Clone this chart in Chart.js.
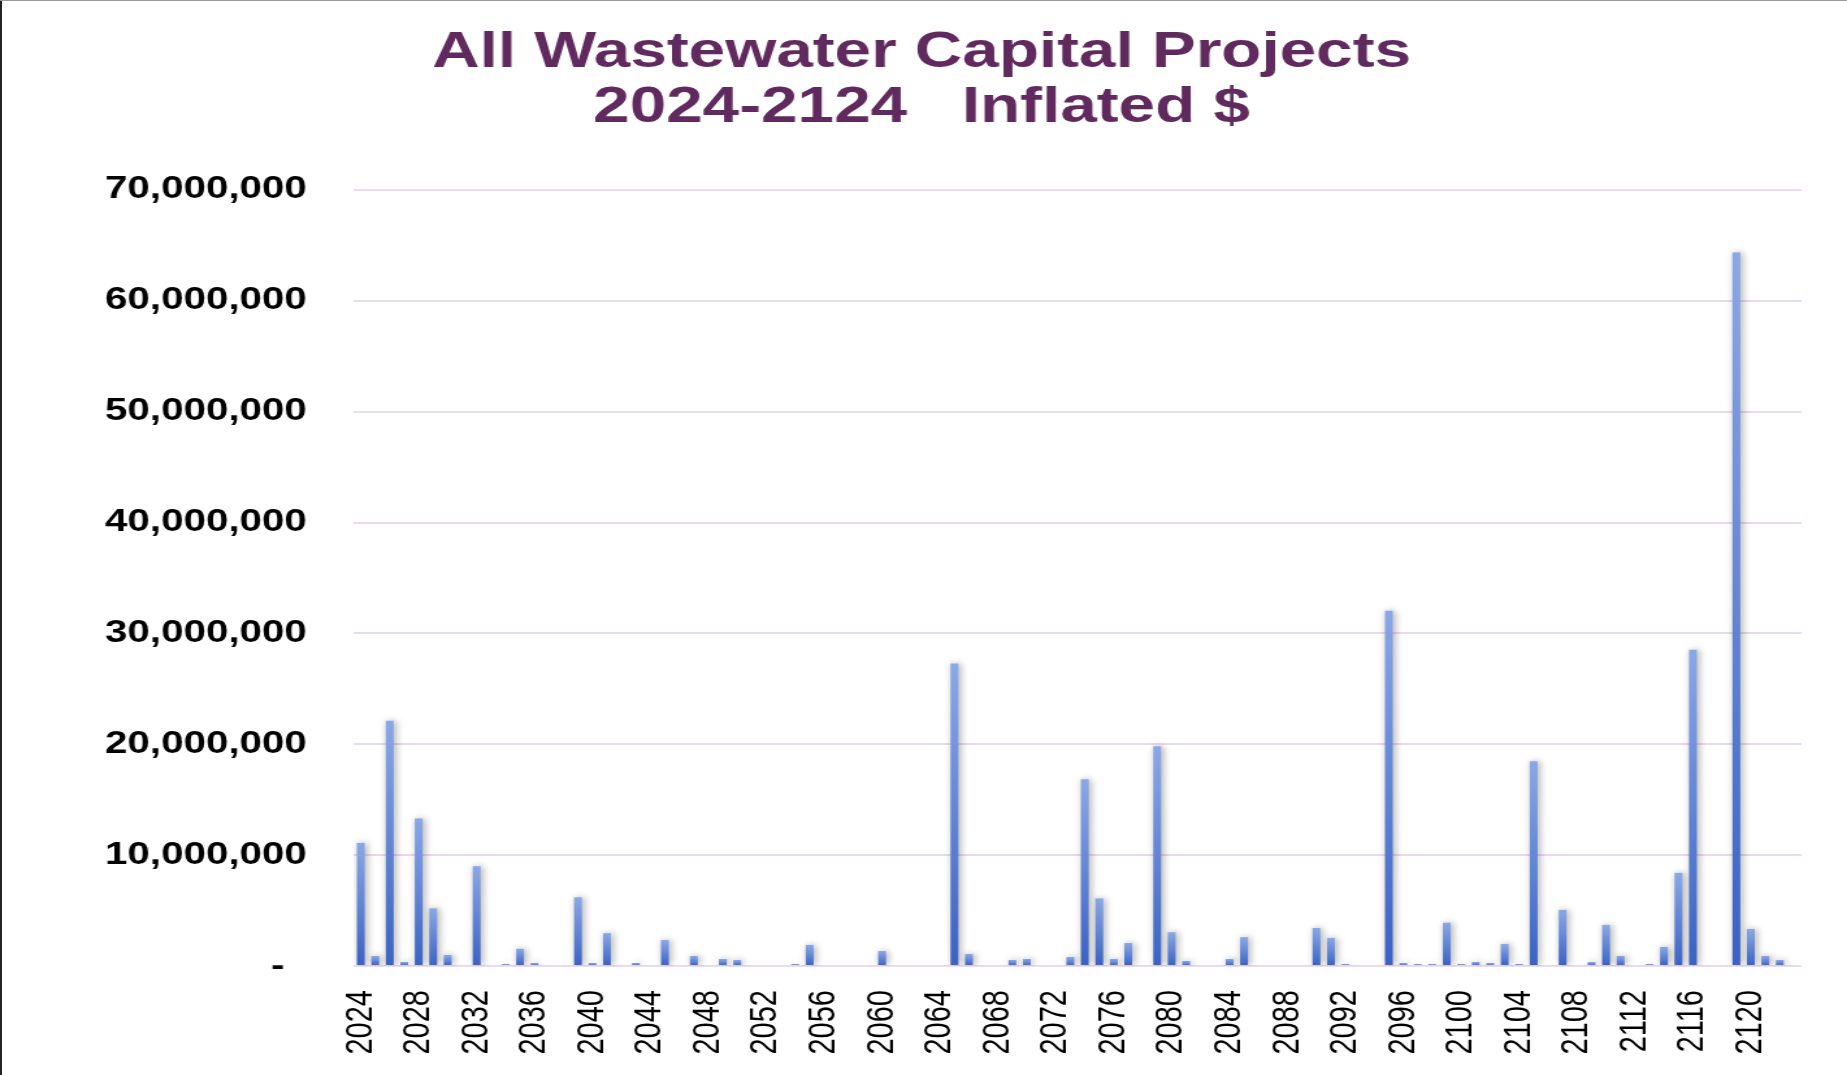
<!DOCTYPE html>
<html>
<head>
<meta charset="utf-8">
<title>All Wastewater Capital Projects</title>
<script src="https://cdn.jsdelivr.net/npm/chart.js@4/dist/chart.umd.min.js"></script>
<style>
  html, body { margin: 0; padding: 0; background: #fff; overflow: hidden; }
  #wrap { position: relative; width: 1847px; height: 1075px; overflow: hidden; }
  /* the original picture is stretched sideways, so the canvas is too */
  #wrap canvas { position: absolute; left: 0; top: 0; transform-origin: 0 0; transform: scaleX(1.2998); }
  #wrap::before { content: ""; position: absolute; z-index: 2; left: 0; top: 0; width: 2px; height: 100%; background: #222; }
  #wrap::after { content: ""; position: absolute; z-index: 2; left: 0; top: 0; width: 100%; height: 1px; background: #999; }
</style>
</head>
<body>
<div id="wrap"><canvas id="grafico" width="1421" height="1075"></canvas></div>
<script>
// anos 2024..2123
const years = [
  2024, 2025, 2026, 2027, 2028, 2029, 2030, 2031, 2032, 2033,
  2034, 2035, 2036, 2037, 2038, 2039, 2040, 2041, 2042, 2043,
  2044, 2045, 2046, 2047, 2048, 2049, 2050, 2051, 2052, 2053,
  2054, 2055, 2056, 2057, 2058, 2059, 2060, 2061, 2062, 2063,
  2064, 2065, 2066, 2067, 2068, 2069, 2070, 2071, 2072, 2073,
  2074, 2075, 2076, 2077, 2078, 2079, 2080, 2081, 2082, 2083,
  2084, 2085, 2086, 2087, 2088, 2089, 2090, 2091, 2092, 2093,
  2094, 2095, 2096, 2097, 2098, 2099, 2100, 2101, 2102, 2103,
  2104, 2105, 2106, 2107, 2108, 2109, 2110, 2111, 2112, 2113,
  2114, 2115, 2116, 2117, 2118, 2119, 2120, 2121, 2122, 2123
];

// inflated $ per year
const costs = [
  11.1e6, 0.9e6, 22.13e6, 0.36e6, 13.3e6, 5.2e6, 0.99e6, 0.09e6, 9.0e6, 0.09e6,
  0.18e6, 1.55e6, 0.27e6, 0, 0, 6.2e6, 0.27e6, 2.96e6, 0, 0.27e6,
  0, 2.34e6, 0, 0.9e6, 0, 0.63e6, 0.54e6, 0.09e6, 0, 0,
  0.18e6, 1.9e6, 0, 0, 0, 0.09e6, 1.35e6, 0.09e6, 0.09e6, 0,
  0, 27.28e6, 1.08e6, 0, 0, 0.54e6, 0.63e6, 0.09e6, 0, 0.81e6,
  16.84e6, 6.1e6, 0.63e6, 2.07e6, 0, 19.81e6, 3.05e6, 0.45e6, 0, 0,
  0.63e6, 2.6e6, 0.09e6, 0, 0, 0.09e6, 3.43e6, 2.53e6, 0.18e6, 0,
  0.09e6, 32.05e6, 0.27e6, 0.18e6, 0.18e6, 3.9e6, 0.18e6, 0.36e6, 0.27e6, 1.99e6,
  0.18e6, 18.46e6, 0, 5.06e6, 0.09e6, 0.36e6, 3.7e6, 0.9e6, 0.09e6, 0.18e6,
  1.72e6, 8.4e6, 28.53e6, 0, 0.09e6, 64.35e6, 3.34e6, 0.9e6, 0.54e6, 0.09e6
];

const yTicks = [0, 10e6, 20e6, 30e6, 40e6, 50e6, 60e6, 70e6];
const titleLines = ["All Wastewater Capital Projects", "2024-2124   Inflated $"];

const sombra = {
  id: "sombra",
  beforeDatasetsDraw(chart) {
    const ctx = chart.ctx;
    ctx.save();
    ctx.shadowColor = "rgba(0, 0, 0, 0.35)";
    ctx.shadowBlur = 6;
    ctx.shadowOffsetX = 1.5;
    ctx.shadowOffsetY = 0;
  },
  afterDatasetsDraw(chart) {
    chart.ctx.restore();
  }
};

function corBarra(c) {
  const chart = c.chart;
  const y = chart.scales.y;
  if (!chart.chartArea || !y) return "#6f8fdb";
  const topo = y.getPixelForValue(c.raw);
  const base = y.getPixelForValue(0);
  if (base - topo < 1) return "#86a3e3";
  const g = chart.ctx.createLinearGradient(0, topo, 0, base);
  g.addColorStop(0, "#8aa8e6");
  g.addColorStop(1, "#3a62c3");
  return g;
}

let grafico = new Chart("grafico", {
  type: "bar",
  data: {
    labels: years,
    datasets: [{
      data: costs,
      backgroundColor: corBarra,
      borderWidth: 0,
      categoryPercentage: 1,
      barPercentage: 0.54
    }]
  },
  options: {
    responsive: false,
    animation: false,
    layout: { padding: { left: 32, right: 35, top: 0, bottom: 0 } },
    plugins: {
      legend: { display: false },
      tooltip: { enabled: false },
      title: {
        display: true,
        text: titleLines,
        color: "#612a5e",
        font: { family: "'Liberation Sans', Arial, sans-serif", size: 50.5, weight: "bold", lineHeight: 1.078 },
        padding: { top: 26, bottom: 55 }
      }
    },
    scales: {
      x: {
        grid: { display: false },
        border: { display: false },
        ticks: {
          autoSkip: false,
          minRotation: 90,
          maxRotation: 90,
          padding: 16,
          color: "#000",
          font: { family: "'Liberation Sans', Arial, sans-serif", size: 29 },
          callback: function (val, i) { return i % 4 === 0 ? String(years[i]) : ""; }
        },
        afterFit: function (s) {
          s.height = 109;
          s.paddingLeft = 0;
          s.paddingRight = 0;
        }
      },
      y: {
        min: yTicks[0],
        max: yTicks[yTicks.length - 1],
        border: { display: false },
        grid: { color: "#ecdaee", lineWidth: 2, drawTicks: false },
        afterBuildTicks: function (s) { s.ticks = yTicks.map(v => ({ value: v })); },
        ticks: {
          padding: 36,
          color: "#000",
          font: { family: "'Liberation Sans', Arial, sans-serif", size: 31, weight: "bold" },
          callback: function (v) { return v === 0 ? "-  " : v.toLocaleString("en-US"); }
        },
        afterFit: function (s) { s.width = 240; }
      }
    }
  },
  plugins: [sombra]
});
</script>
</body>
</html>
